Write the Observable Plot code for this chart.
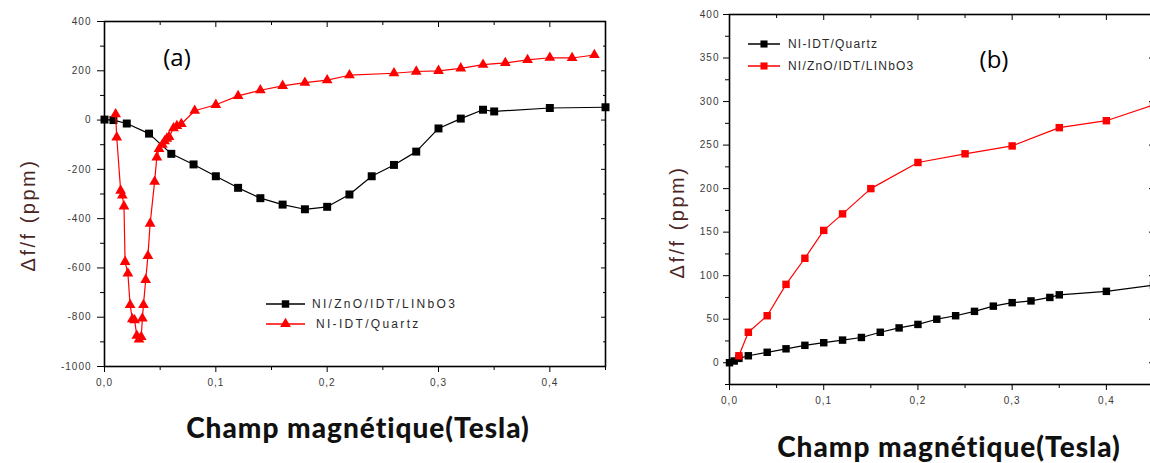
<!DOCTYPE html>
<html>
<head>
<meta charset="utf-8">
<script src="https://cdn.jsdelivr.net/npm/d3@7"></script>
<script src="https://cdn.jsdelivr.net/npm/@observablehq/plot@0.6"></script>
<style>
  html, body { margin: 0; padding: 0; background: #fff; }
  body { width: 1150px; height: 463px; overflow: hidden; position: relative; font-family: "Liberation Sans", Arial, sans-serif; }
  .panel { position: absolute; top: 0; }
  .panel svg { max-width: none !important; }
  .panel svg text { letter-spacing: 1px; }
  .xtitle { position: absolute; font-family: Lato, "Open Sans", sans-serif; font-weight: 900; font-size: 28px; line-height: 1; letter-spacing: 1px; color: #111; white-space: nowrap; transform: translate(-50%, -50%); }
  .ytitle { position: absolute; font-family: "Liberation Sans", Arial, sans-serif; font-size: 20px; line-height: 1; letter-spacing: 2.5px; color: #4a2626; white-space: nowrap; transform: translate(-50%, -50%) rotate(-90deg); }
  .tag { position: absolute; font-family: "Open Sans", sans-serif; font-size: 24px; line-height: 1; color: #000; transform: translate(-50%, -50%); }
  .legend { position: absolute; font-family: "Liberation Sans", Arial, sans-serif; color: #2a2a2a; }
  .legend .row { display: flex; align-items: center; white-space: nowrap; }
  .legend svg { display: block; }
</style>
</head>
<body>
<div id="panelA" class="panel" style="left:0px;width:620px"></div>
<div id="panelB" class="panel" style="left:630px;width:530px"></div>
<script>
// ---------------- DATA ----------------
// Panel (a)
const aSeriesNames = ["NI/ZnO/IDT/LINbO3", "NI-IDT/Quartz"];
const aLiNbO3X = [0, 0.008, 0.02, 0.04, 0.06, 0.08, 0.10, 0.12, 0.14, 0.16, 0.18, 0.20, 0.22, 0.24, 0.26, 0.28, 0.30, 0.32, 0.34, 0.35, 0.40, 0.45];
const aLiNbO3Y = [2, 0, -14, -55, -137, -180, -228, -275, -317, -343, -362, -352, -302, -228, -182, -128, -34, 6, 42, 35, 49, 52];
const aQuartzX = [0.010, 0.011, 0.0145, 0.016, 0.0175, 0.0185, 0.021, 0.023, 0.025, 0.027, 0.029, 0.031, 0.033, 0.034, 0.035, 0.037, 0.039, 0.041, 0.045, 0.047, 0.049, 0.052, 0.054, 0.056, 0.058, 0.062, 0.065, 0.069, 0.081, 0.10, 0.12, 0.14, 0.16, 0.18, 0.20, 0.22, 0.26, 0.28, 0.30, 0.32, 0.34, 0.36, 0.38, 0.40, 0.42, 0.44];
const aQuartzY = [24, -70, -286, -306, -350, -575, -622, -750, -808, -812, -875, -890, -880, -805, -750, -649, -551, -420, -250, -151, -117, -100, -86, -75, -68, -33, -24, -16, 38, 62, 98, 121, 139, 152, 162, 182, 190, 197, 200, 210, 225, 232, 244, 253, 252, 264];
const aXDomain = [0, 0.45];
const aYDomain = [-1000, 400];
const aXMajor = [0, 0.1, 0.2, 0.3, 0.4];
const aXMinor = [0.05, 0.15, 0.25, 0.35, 0.45];
const aYMajor = [-1000, -800, -600, -400, -200, 0, 200, 400];
const aYMinor = [-900, -700, -500, -300, -100, 100, 300];

// Panel (b)
const bSeriesNames = ["NI-IDT/Quartz", "NI/ZnO/IDT/LINbO3"];
const bQuartzX = [0, 0.005, 0.01, 0.02, 0.04, 0.06, 0.08, 0.10, 0.12, 0.14, 0.16, 0.18, 0.20, 0.22, 0.24, 0.26, 0.28, 0.30, 0.32, 0.34, 0.35, 0.40, 0.45];
const bQuartzY = [0, 2, 5, 8, 12, 16, 20, 23, 26, 29, 35, 40, 44, 50, 54, 59, 65, 69, 71, 75, 78, 82, 89];
const bLiNbO3X = [0.01, 0.02, 0.04, 0.06, 0.08, 0.10, 0.12, 0.15, 0.20, 0.25, 0.30, 0.35, 0.40, 0.45];
const bLiNbO3Y = [8, 35, 54, 90, 120, 152, 171, 200, 230, 240, 249, 270, 278, 296];
const bXDomain = [0, 0.45];
const bYDomain = [-25, 400];
const bXMajor = [0, 0.1, 0.2, 0.3, 0.4];
const bXMinor = [0.05, 0.15, 0.25, 0.35, 0.45];
const bYMajor = [0, 50, 100, 150, 200, 250, 300, 350, 400];
const bYMinor = [-25, 25, 75, 125, 175, 225, 275, 325, 375];

const xTitle = "Champ magnétique(Tesla)";
const yTitle = "Δf/f (ppm)";

// ---------------- HELPERS ----------------
const toRows = (xs, ys) => xs.map((x, i) => ({x, y: ys[i]}));
const commaFmt = d => d.toFixed(1).replace(".", ",");
const blank = () => "";

function axes({xMajor, xMinor, yMajor, yMinor, ySize, yPad}) {
  const txt = {fontSize: 10, fill: "#3a3a3a"};
  return [
    Plot.axisX(xMajor, {anchor: "bottom", tickSize: 6, tickPadding: 6, tickFormat: commaFmt, label: null, ...txt}),
    Plot.axisX(xMinor, {anchor: "bottom", tickSize: 4, tickFormat: blank, label: null}),
    Plot.axisX(xMajor, {anchor: "top", tickSize: -5, tickFormat: blank, label: null}),
    Plot.axisX(xMinor, {anchor: "top", tickSize: -3, tickFormat: blank, label: null}),
    Plot.axisY(yMajor, {anchor: "left", tickSize: ySize, tickPadding: yPad, tickFormat: d => String(d), label: null, ...txt}),
    Plot.axisY(yMinor, {anchor: "left", tickSize: 4, tickFormat: blank, label: null}),
    Plot.axisY(yMajor, {anchor: "right", tickSize: -5, tickFormat: blank, label: null}),
    Plot.axisY(yMinor, {anchor: "right", tickSize: -3, tickFormat: blank, label: null}),
    Plot.frame({stroke: "#000", strokeWidth: 1.6})
  ];
}

function seriesMarks(rows, color, symbol, r) {
  return [
    Plot.line(rows, {x: "x", y: "y", stroke: color, strokeWidth: 1.2}),
    Plot.dot(rows, {x: "x", y: "y", symbol, r, fill: color, stroke: "none"})
  ];
}

// ---------------- PANEL (a) ----------------
const plotA = Plot.plot({
  width: 620, height: 463,
  marginLeft: 104, marginRight: 15, marginTop: 21, marginBottom: 97,
  style: {fontFamily: "'Liberation Sans', Arial, sans-serif", background: "transparent", overflow: "visible", maxWidth: "none"},
  x: {domain: aXDomain},
  y: {domain: aYDomain},
  marks: [
    ...axes({xMajor: aXMajor, xMinor: aXMinor, yMajor: aYMajor, yMinor: aYMinor, ySize: 7, yPad: 6}),
    ...seriesMarks(toRows(aLiNbO3X, aLiNbO3Y), "#000", "square", 4.5),
    ...seriesMarks(toRows(aQuartzX, aQuartzY), "#ff0000", "triangle", 4)
  ]
});
document.getElementById("panelA").append(plotA);

// ---------------- PANEL (b) ----------------
const plotB = Plot.plot({
  width: 530, height: 463,
  marginLeft: 99, marginRight: 7, marginTop: 14, marginBottom: 79,
  style: {fontFamily: "'Liberation Sans', Arial, sans-serif", background: "transparent", overflow: "visible", maxWidth: "none"},
  x: {domain: bXDomain},
  y: {domain: bYDomain},
  marks: [
    ...axes({xMajor: bXMajor, xMinor: bXMinor, yMajor: bYMajor, yMinor: bYMinor, ySize: 6, yPad: 4}),
    ...seriesMarks(toRows(bQuartzX, bQuartzY), "#000", "square", 4.2),
    ...seriesMarks(toRows(bLiNbO3X, bLiNbO3Y), "#ff0000", "square", 4.2)
  ]
});
document.getElementById("panelB").append(plotB);

// ---------------- TEXT / LEGENDS ----------------
function addDiv(cls, text, left, top, extra) {
  const d = document.createElement("div");
  d.className = cls;
  d.textContent = text;
  d.style.left = left + "px";
  d.style.top = top + "px";
  if (extra) Object.assign(d.style, extra);
  document.body.append(d);
  return d;
}
addDiv("xtitle", xTitle, 358, 427);
addDiv("xtitle", xTitle, 949, 446);
addDiv("ytitle", yTitle, 28, 215);
addDiv("ytitle", yTitle, 677, 222);
addDiv("tag", "(a)", 177, 57);
addDiv("tag", "(b)", 994, 59);

function swatch(color, shape, size, w) {
  const ns = "http://www.w3.org/2000/svg";
  const svg = document.createElementNS(ns, "svg");
  svg.setAttribute("width", w); svg.setAttribute("height", 14);
  const ln = document.createElementNS(ns, "line");
  ln.setAttribute("x1", 0); ln.setAttribute("x2", w); ln.setAttribute("y1", 7); ln.setAttribute("y2", 7);
  ln.setAttribute("stroke", color); ln.setAttribute("stroke-width", 1.5);
  svg.append(ln);
  const p = document.createElementNS(ns, "path");
  const sym = shape === "square" ? d3.symbolSquare : d3.symbolTriangle;
  p.setAttribute("d", d3.symbol(sym, Math.PI * size * size)());
  p.setAttribute("transform", `translate(${w / 2},7)`);
  p.setAttribute("fill", color);
  svg.append(p);
  return svg;
}
function legend(items, left, top, rowH, swW, gap, fontSize, spacing) {
  const box = document.createElement("div");
  box.className = "legend";
  box.style.left = left + "px"; box.style.top = top + "px";
  box.style.fontSize = fontSize + "px"; box.style.letterSpacing = spacing + "px";
  items.forEach(it => {
    const row = document.createElement("div");
    row.className = "row";
    row.style.height = rowH + "px";
    row.append(swatch(it.color, it.shape, it.size, swW));
    const s = document.createElement("span");
    s.textContent = it.name;
    s.style.marginLeft = (gap + (it.indent || 0)) + "px";
    row.append(s);
    box.append(row);
  });
  document.body.append(box);
}
legend([
  {name: aSeriesNames[0], color: "#000", shape: "square", size: 4.2},
  {name: aSeriesNames[1], color: "#ff0000", shape: "triangle", size: 4, indent: 4}
], 266, 294, 20, 39, 7, 12, 2.3);
legend([
  {name: bSeriesNames[0], color: "#000", shape: "square", size: 4},
  {name: bSeriesNames[1], color: "#ff0000", shape: "square", size: 4}
], 748, 33, 22, 32, 8, 12, 1.2);
</script>
</body>
</html>
